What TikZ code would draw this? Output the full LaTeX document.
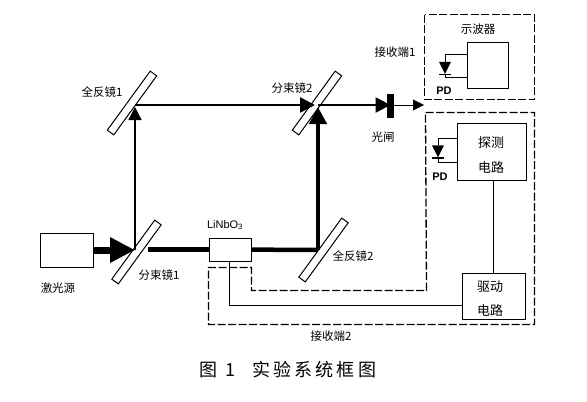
\documentclass[tikz,border=0pt]{standalone}
\usepackage{fontspec}
\setmainfont{Noto Sans CJK SC}
\setsansfont{Liberation Sans}
\usetikzlibrary{arrows.meta, shapes.geometric, calc}
\tikzset{
  mirror/.style={draw, fill=white, line width=1pt, minimum width=73pt, minimum height=8pt, inner sep=0pt, rotate=54},
  block/.style={draw, line width=1pt, inner sep=0pt, align=center},
  lbl/.style={font=\fontsize{11.5}{13}\selectfont, inner sep=0pt},
  biglbl/.style={font=\fontsize{13}{15}\selectfont, inner sep=0pt},
  pdlbl/.style={font=\fontsize{11}{13}\sffamily\bfseries, inner sep=0pt},
  wire/.style={line width=0.8pt},
  frame/.style={line width=1.3pt, dash pattern=on 8pt off 2.5pt},
  diode/.style={isosceles triangle, isosceles triangle stretches, shape border rotate=270, fill=black, minimum width=12pt, minimum height=12pt, inner sep=0pt},
  thinbeam/.style={line width=1.3pt},
  midbeam/.style={line width=2.6pt},
  fatbeam/.style={line width=4.5pt}
}
\begin{document}
\begin{tikzpicture}[x=1pt, y=-1pt]
    \useasboundingbox (0,0) rectangle (587,402);
    % optics
    \node[block, minimum width=53pt, minimum height=34pt] (laser) at (66.5,250) {};
    \node[mirror] (split1) at (136.5,252) {};
    \node[mirror] (total1) at (132,103) {};
    \node[mirror] (split2) at (317,103) {};
    \node[mirror] (total2) at (323.5,250) {};
    \node[block, minimum width=42pt, minimum height=23pt, fill=white] (linbo) at (230,249.5) {};
    \fill (387,94) rectangle (394,118) coordinate[pos=0.5] (shutter);
    % turning points of the beams
    \coordinate (hit1) at (135,250);
    \coordinate (hit2) at (135,105);
    \coordinate (hit3) at (318,105);
    \coordinate (hit4) at (318,250);
    \coordinate (out) at (424,105);
    % beams
    \draw[line width=7pt, -{Triangle[length=25pt, width=24pt]}] (laser) -- (hit1);
    \draw[fatbeam] (split1.east |- linbo) ++(-10,0) -- (linbo);
    \draw[thinbeam, -{Triangle[length=13pt, width=13pt]}] (hit1) -- ([yshift=-2pt]hit2);
    \draw[midbeam, -{Triangle[length=15pt, width=15pt]}] (hit2) -- ([xshift=-3pt]hit3);
    \draw[fatbeam] (linbo) -- (hit4);
    \draw[fatbeam, -{Triangle[length=17pt, width=17pt]}] (hit4) -- ([yshift=-2pt]hit3);
    \draw[midbeam, -{Triangle[length=15pt, width=15pt]}] (hit3) -- (shutter.west |- out);
    \draw[wire, -{Triangle[length=11pt, width=11pt]}] (shutter.east |- out) -- (out);
    % receiver 1
    \draw[frame] (424.5,14.5) rectangle (534.5,99.5);
    \node[block, minimum width=41pt, minimum height=46pt] (scope) at (487.5,65) {};
    \node[diode] (pdA) at (445,65.5) {};
    \draw[wire] (pdA) |- ([yshift=11pt]scope.west);
    \draw[wire] (pdA) |- ([yshift=-12pt]scope.west);
    \draw[line width=1.4pt] ([xshift=-6pt]pdA.apex) -- ([xshift=6pt]pdA.apex);
    % receiver 2
    \draw[frame] (425.5,112.5) -- (534.5,112.5) -- (534.5,324.5) -- (208.5,324.5) -- (208.5,267.5) -- (251.5,267.5) -- (251.5,290.5) -- (426.5,290.5) -- cycle;
    \node[block, minimum width=69pt, minimum height=57pt] (detect) at (491.5,151.5) {};
    \node[block, minimum width=63pt, minimum height=46pt] (driver) at (493.5,296) {};
    \node[diode] (pdB) at (438,149) {};
    \draw[wire] (pdB) |- ([yshift=13.5pt]detect.west);
    \draw[wire] (pdB) |- ([yshift=-10.5pt]detect.west);
    \draw[line width=1.4pt] ([xshift=-6pt]pdB.apex) -- ([xshift=6pt]pdB.apex);
    \draw[wire] (detect.south -| driver.north) -- (driver.north);
    \draw[wire] ([yshift=-9pt]driver.west) -| ([xshift=-1pt]linbo.south);
    % labels
    \node[lbl] (laserlbl) at (58,288) {激光源};
    \node[lbl] (split1lbl) at (159,275) {分束镜1};
    \node[lbl] (total1lbl) at (102,92) {全反镜1};
    \node[lbl] (split2lbl) at (292,88) {分束镜2};
    \node[lbl] (total2lbl) at (353,256) {全反镜2};
    \node[lbl] (shutterlbl) at (383,137) {光闸};
    \node[lbl] (rxAlbl) at (395,52) {接收端1};
    \node[lbl] (rxBlbl) at (331,336) {接收端2};
    \node[lbl] (scopelbl) at (478,29) {示波器};
    \node[biglbl] (detectlbl) at (491,143) {探测};
    \node[biglbl] (detectlblb) at (491,168) {电路};
    \node[biglbl] (driverlbl) at (490,287) {驱动};
    \node[biglbl] (driverlblb) at (490,311) {电路};
    \node[pdlbl] (pdAlbl) at (444,91) {PD};
    \node[pdlbl] (pdBlbl) at (440,177) {PD};
    \node[lbl, font=\fontsize{11}{13}\sffamily] (linbolbl) at (225,225) {LiNbO\textsubscript{3}};
    % caption
    \node[inner sep=0pt, font=\fontsize{18}{20}\selectfont\addfontfeature{LetterSpace=18}] (caption) at (288,370) {图 1\hspace{17pt}实验系统框图};
\end{tikzpicture}
\end{document}
